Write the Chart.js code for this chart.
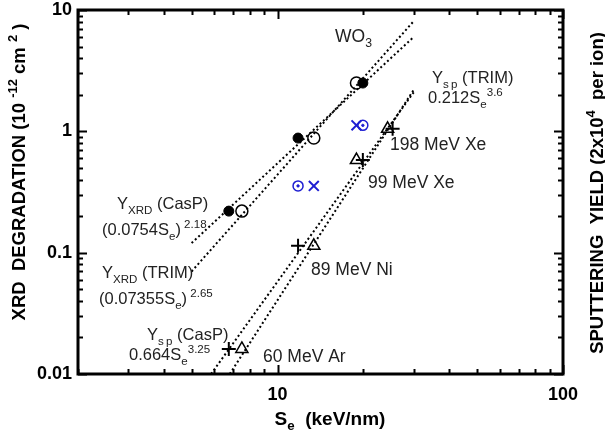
<!DOCTYPE html>
<html>
<head>
<meta charset="utf-8">
<script src="https://cdn.jsdelivr.net/npm/chart.js@4.4.1/dist/chart.umd.min.js"></script>
<style>
  body { margin: 0; background: #fff; }
</style>
</head>
<body>
<canvas id="myChart" width="605" height="432"></canvas>
<script>
'use strict';

// irradiations, with Se (keV/nm) from CasP and from TRIM
let ions = ['60 MeV Ar', '89 MeV Ni', '99 MeV Xe', '198 MeV Xe'];
let seCasP = [6.75, 11.8, 19.9, 25.3];
let seTrim = [7.5, 13.4, 18.9, 24.3];

// XRD degradation cross section (10^-12 cm2)
let xrdDegr = [0.22, 0.88, 2.5, null];
let xrdBlue = [null, 0.355, 1.12, null];

// sputtering yield (2x10^4 per ion)
let sputYield = [0.0161, 0.114, 0.58, 1.05];

// fitted curves, end points [Se, value]
let fitXrdCasP = [[5, 0.12], [30, 6.0]];
let fitXrdTrim = [[5, 0.070], [30, 8.1]];
let fitSpCasP = [[5.85, 0.01], [30, 2.1]];
let fitSpTrim = [[6.8, 0.01], [30, 2.2]];

let xTickLabels = [10, 100];
let yTickLabels = [10, 1, 0.1, 0.01];

const BLUE = '#1e1ed2';
const FONT = 'Arial, "Liberation Sans", sans-serif';

function pts(xs, ys) {
    let out = [];
    for (let i = 0; i < xs.length; i++) {
        if (ys[i] !== null) out.push({x: xs[i], y: ys[i]});
    }
    return out;
}
function pairs(arr) {
    return arr.map(p => ({x: p[0], y: p[1]}));
}
function fitLine(data) {
    return {
        data: pairs(data), showLine: true, pointRadius: 0,
        borderColor: '#000', borderWidth: 2, borderDash: [2, 2.6], fill: false
    };
}
function marker(data, style, r, fill, stroke, w) {
    return {
        data: data, showLine: false, pointStyle: style, pointRadius: r, pointHoverRadius: r,
        backgroundColor: fill, borderColor: stroke, borderWidth: w
    };
}

// text with sub/superscripts: parts are [text, ''|'_'|'^']
function richWidth(ctx, parts, size, weight) {
    let w = 0;
    parts.forEach(p => {
        let s = p[1] ? size * 0.7 : size;
        ctx.font = weight + ' ' + s + 'px ' + FONT;
        w += ctx.measureText(p[0]).width;
    });
    return w;
}
function richText(ctx, parts, x, y, size, weight, color) {
    ctx.fillStyle = color;
    ctx.textBaseline = 'alphabetic';
    ctx.textAlign = 'left';
    parts.forEach(p => {
        let s = p[1] ? size * 0.7 : size;
        let dy = p[1] === '_' ? size * 0.28 : (p[1] === '^' ? -size * 0.42 : 0);
        ctx.font = weight + ' ' + s + 'px ' + FONT;
        ctx.fillText(p[0], x, y + dy);
        x += ctx.measureText(p[0]).width;
    });
}

let notes = [
    {t: [['WO', ''], ['3', '_']], x: 335, y: 42, s: 17.5},
    {t: [['Y', ''], ['s\u2009p', '_'], [' (TRIM)', '']], x: 432, y: 83, s: 16.5},
    {t: [['0.212S', ''], ['e', '_'], ['3.6', '^']], x: 428, y: 103, s: 16.5},
    {t: [[ions[3], '']], x: 390, y: 150, s: 17.5},
    {t: [[ions[2], '']], x: 368, y: 188, s: 17.5},
    {t: [[ions[1], '']], x: 311, y: 275, s: 17.5},
    {t: [[ions[0], '']], x: 263, y: 362, s: 17.5},
    {t: [['Y', ''], ['XRD', '_'], [' (CasP)', '']], x: 117, y: 209, s: 16.5},
    {t: [['(0.0754S', ''], ['e', '_'], [')', ''], [' 2.18', '^']], x: 102, y: 235, s: 16.5},
    {t: [['Y', ''], ['XRD', '_'], [' (TRIM)', '']], x: 102, y: 278, s: 16.5},
    {t: [['(0.07355S', ''], ['e', '_'], [')', ''], [' 2.65', '^']], x: 99, y: 304, s: 16.5},
    {t: [['Y', ''], ['s\u2009p', '_'], [' (CasP)', '']], x: 147, y: 340, s: 16.5},
    {t: [['0.664S', ''], ['e', '_'], ['3.25', '^']], x: 129, y: 360, s: 16.5}
];

let framePlugin = {
    id: 'frame',
    afterDraw(chart) {
        let ctx = chart.ctx;
        let a = chart.chartArea;
        let xs = chart.scales.x, ys = chart.scales.y;
        ctx.save();

        // inward ticks on all four sides
        ctx.strokeStyle = '#000';
        ctx.lineWidth = 2;
        ctx.beginPath();
        for (let e = 0; e <= 2; e++) {
            for (let m = 1; m <= 9; m++) {
                let v = m * Math.pow(10, e);
                if (v < 2 || v > 100) continue;
                let px = Math.round(xs.getPixelForValue(v)) + 0.5;
                let len = m === 1 ? 9 : 5;
                ctx.moveTo(px, a.bottom); ctx.lineTo(px, a.bottom - len);
                ctx.moveTo(px, a.top); ctx.lineTo(px, a.top + len);
            }
        }
        for (let e = -2; e <= 1; e++) {
            for (let m = 1; m <= 9; m++) {
                let v = m * Math.pow(10, e);
                if (v > 10.0001) continue;
                let py = Math.round(ys.getPixelForValue(v)) + 0.5;
                let len = m === 1 ? 9 : 5;
                ctx.moveTo(a.left, py); ctx.lineTo(a.left + len, py);
                ctx.moveTo(a.right, py); ctx.lineTo(a.right - len, py);
            }
        }
        ctx.stroke();

        ctx.lineWidth = 3;
        ctx.strokeRect(a.left, a.top, a.right - a.left, a.bottom - a.top);

        // axis titles
        let yTitle = [['XRD  DEGRADATION (10 ', ''], ['-12', '^'], [' cm ', ''], ['2', '^'], [' )', '']];
        let w = richWidth(ctx, yTitle, 18.5, 'bold');
        ctx.save();
        ctx.translate(25, 172);
        ctx.rotate(-Math.PI / 2);
        richText(ctx, yTitle, -w / 2, 0, 18.5, 'bold', '#000');
        ctx.restore();

        let y2Title = [['SPUTTERING  YIELD (2x10', ''], ['4', '^'], ['  per ion)', '']];
        w = richWidth(ctx, y2Title, 18.5, 'bold');
        ctx.save();
        ctx.translate(603, 193);
        ctx.rotate(-Math.PI / 2);
        richText(ctx, y2Title, -w / 2, 0, 18.5, 'bold', '#000');
        ctx.restore();

        let xTitle = [['S', ''], ['e', '_'], ['  (keV/nm)', '']];
        w = richWidth(ctx, xTitle, 19, 'bold');
        richText(ctx, xTitle, 330 - w / 2, 425, 19, 'bold', '#000');

        notes.forEach(n => richText(ctx, n.t, n.x, n.y, n.s, 'normal', '#222'));
        ctx.restore();
    }
};

function isDecade(v) {
    let l = Math.log10(v);
    return Math.abs(l - Math.round(l)) < 1e-6;
}

// fixed box sizes so the plot frame sits at the same place every time
function fixBox(key, size) {
    return s => {
        s[key] = size;
        s.paddingTop = 0; s.paddingBottom = 0;
        s.paddingLeft = 0; s.paddingRight = 0;
    };
}

let ctx = document.getElementById('myChart').getContext('2d');
let myChart = new Chart(ctx, {
    type: 'scatter',
    data: {
        datasets: [
            fitLine(fitXrdCasP),
            fitLine(fitXrdTrim),
            fitLine(fitSpCasP),
            fitLine(fitSpTrim),
            marker(pts(seTrim, xrdDegr), 'circle', 6, 'rgba(0,0,0,0)', '#000', 1.5),
            marker(pts(seCasP, xrdDegr), 'circle', 5, '#000', '#000', 1),
            marker(pts(seCasP, xrdBlue), 'circle', 5, 'rgba(0,0,0,0)', BLUE, 1.5),
            marker(pts(seCasP, xrdBlue), 'circle', 1.2, BLUE, BLUE, 1),
            marker(pts(seTrim, xrdBlue), 'crossRot', 7, BLUE, BLUE, 2),
            marker(pts(seTrim, sputYield), 'triangle', 7, 'rgba(0,0,0,0)', '#000', 1.5),
            marker(pts(seCasP, sputYield), 'cross', 7, '#000', '#000', 2)
        ]
    },
    options: {
        responsive: false,
        animation: false,
        devicePixelRatio: 1,
        layout: { padding: { top: 10, left: 0, right: 0, bottom: 0 } },
        plugins: { legend: { display: false }, tooltip: { enabled: false } },
        scales: {
            x: {
                type: 'logarithmic', min: 2, max: 100, position: 'bottom',
                grid: { display: false, drawTicks: false },
                border: { display: false },
                ticks: {
                    autoSkip: false, maxRotation: 0, padding: 10, color: '#000',
                    font: { family: FONT, size: 18, weight: 'bold' },
                    callback: v => (isDecade(v) && xTickLabels.includes(Math.round(v))) ? String(Math.round(v)) : ''
                },
                afterFit: fixBox('height', 58)
            },
            y: {
                type: 'logarithmic', min: 0.01, max: 10, position: 'left',
                grid: { display: false, drawTicks: false },
                border: { display: false },
                ticks: {
                    autoSkip: false, padding: 6, color: '#000',
                    font: { family: FONT, size: 18, weight: 'bold' },
                    callback: v => {
                        if (!isDecade(v)) return '';
                        let n = +v.toPrecision(3);
                        return yTickLabels.includes(n) ? String(n) : '';
                    }
                },
                afterFit: fixBox('width', 78)
            },
            y2: {
                type: 'logarithmic', min: 0.01, max: 10, position: 'right',
                grid: { display: false, drawTicks: false },
                border: { display: false },
                ticks: { display: false },
                afterFit: fixBox('width', 42)
            }
        }
    },
    plugins: [framePlugin]
});
</script>
</body>
</html>
